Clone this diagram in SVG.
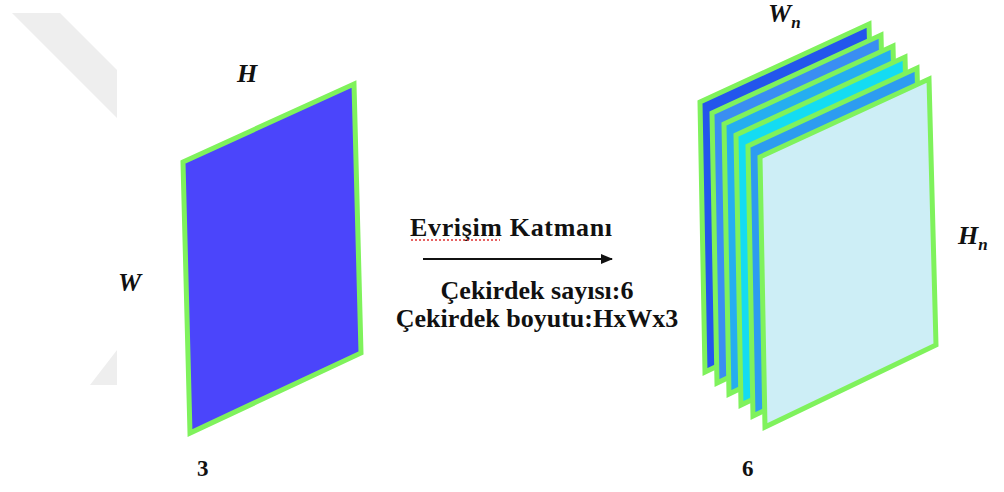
<svg xmlns="http://www.w3.org/2000/svg" width="1004" height="492" viewBox="0 0 1004 492">
<style>
.sheet{stroke:#7ff25c;stroke-width:5;stroke-linejoin:miter}
.lbl{font-family:"Liberation Serif","Times New Roman",serif;fill:#111}
.it{font-style:italic;font-weight:bold;font-size:26px}
.bd{font-weight:bold;font-size:26px}
.num{font-weight:bold;font-size:23px}
</style>
<defs>
<marker id="ah" markerWidth="12" markerHeight="10" refX="11" refY="5" orient="auto" markerUnits="userSpaceOnUse">
<path d="M0,0 L12,5 L0,10 Z" fill="#111"/>
</marker>
</defs>
<rect width="1004" height="492" fill="#ffffff"/>
<g id="watermark" fill="#eeeeee">
<polygon points="12,13 60,13 117,70 117,118"/>
<polygon points="90,385 117,350 117,385"/>
</g>
<g id="input-layer">
<polygon class="sheet" fill="#4b45fb" points="183,162 354,84 361,353 190,433"/>
<text class="lbl it" x="237" y="82">H</text>
<text class="lbl it" x="118" y="291">W</text>
<text class="lbl num" x="197" y="476">3</text>
</g>
<g id="output-layer">
<polygon class="sheet" fill="#2356ec" points="700,102 869,24 876,290 705,372"/>
<polygon class="sheet" fill="#3a8ef2" points="712,113 881,35 888,301 717,383"/>
<polygon class="sheet" fill="#25aef0" points="724,124 893,46 900,312 729,394"/>
<polygon class="sheet" fill="#14dcf2" points="736,135 905,57 912,323 741,405"/>
<polygon class="sheet" fill="#2d9cf0" points="748,146 917,68 924,334 753,416"/>
<polygon class="sheet" fill="#cdeef6" points="760,157 929,79 936,345 765,427"/>
<text class="lbl it" x="768" y="22">W<tspan font-size="17" dy="6">n</tspan></text>
<text class="lbl it" x="958" y="244">H<tspan font-size="17" dy="6">n</tspan></text>
<text class="lbl num" x="742" y="476">6</text>
</g>
<g id="connectors">
<line x1="423" y1="259" x2="612" y2="259" stroke="#111" stroke-width="2" marker-end="url(#ah)"/>
</g>
<g id="conv-label">
<text class="lbl bd" x="410" y="236" font-size="27" textLength="202">Evrişim Katmanı</text>
<path d="M411,240 L500,240" stroke="#e03030" stroke-width="1.5" stroke-dasharray="2,2" fill="none"/>
<text class="lbl bd" x="537" y="299" text-anchor="middle">Çekirdek sayısı:6</text>
<text class="lbl bd" x="537" y="327" text-anchor="middle">Çekirdek boyutu:HxWx3</text>
</g>
</svg>
